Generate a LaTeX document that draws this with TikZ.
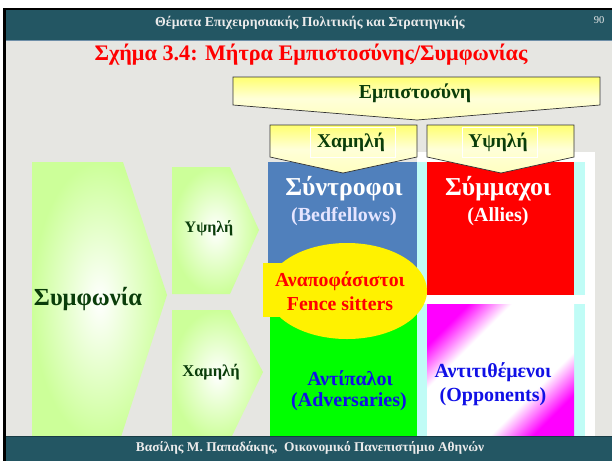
\documentclass[tikz,border=0pt]{standalone}
\usepackage{fontspec}
\setmainfont{Liberation Serif}
\definecolor{bggray}{HTML}{E6E6E2}
\definecolor{barteal}{HTML}{235663}
\definecolor{barline}{HTML}{6F8FA8}
\definecolor{chevgreen}{HTML}{CCFF99}
\definecolor{txtgreen}{HTML}{0A3D0A}
\definecolor{bedblue}{HTML}{5080BC}
\definecolor{palecyan}{HTML}{C0FCF6}
\definecolor{oppblue}{HTML}{1010E6}
\definecolor{arrowyellow}{HTML}{FFFF70}
\pgfdeclareverticalshading{magdiag}{100bp}{color(0bp)=(magenta); color(25bp)=(magenta); color(36bp)=(white); color(64bp)=(white); color(75bp)=(magenta); color(100bp)=(magenta)}
\newcommand{\fs}[1]{\fontsize{#1}{#1}\selectfont}
\tikzset{
  chev/.style={inner color=white, outer color=chevgreen},
  yarrow/.style={draw=black!80, line width=0.7pt, top color=arrowyellow, bottom color=yellow!25, middle color=yellow!15},
  lbl/.style={font=\bfseries, inner sep=0pt, align=center}
}
\begin{document}
\begin{tikzpicture}[x=1pt,y=-1pt]
\useasboundingbox (0,0) rectangle (612,461);
\fill[white] (0,0) rectangle (612,461);
% slide background
\fill[bggray] (3,8) rectangle (612,461);
% header bar
\fill[barteal] (3,8) rectangle (612,40);
\fill[barline] (6,39.5) rectangle (612,41);
\fill[black] (3,8) rectangle (612,10);
\node[lbl, text=white!92!black, font=\bfseries\fs{13.8}] (head) at (310,23) {Θέματα Επιχειρησιακής Πολιτικής και Στρατηγικής};
\node[inner sep=0pt, text=white!92!black, font=\fs{10.5}] (page) at (599,20) {90};
% title
\node[lbl, text=red, font=\bfseries\fs{22.2}] (title) at (311,55) {Σχήμα 3.4: Μήτρα Εμπιστοσύνης/Συμφωνίας};

% right column frame
\fill[white] (417,152) rectangle (595,436);
\fill[palecyan] (417,162) rectangle (585,295);
\fill[palecyan] (417,304) rectangle (585,436);
% quadrants
\fill[bedblue] (268,162) rectangle (417,300);
\fill[red] (427,162) rectangle (574,295);
\fill[green] (270,300) rectangle (417,436);
\shade[shading=magdiag, shading angle=45] (427,304) rectangle (574,436);
% undecided ellipse
\fill[yellow] (263,263) rectangle (330,317);
\fill[yellow] (347,291) ellipse [x radius=80, y radius=48];

% agreement chevrons
\shade[chev] (32,162) -- (123,162) -- (167,295) -- (120,440) -- (32,440) -- cycle;
\shade[chev] (172,167) -- (230,167) -- (259,230) -- (230,294) -- (172,294) -- cycle;
\shade[chev] (172,310) -- (230,310) -- (263,372) -- (230,440) -- (172,440) -- cycle;

% footer bar, over the chevron ends
\fill[barteal] (3,436) rectangle (612,461);
\fill[barteal!70!black] (6,435.5) rectangle (612,437);
\fill[black] (3,8) rectangle (6,461);
\node[lbl, text=white!92!black, font=\bfseries\fs{13.4}] (foot) at (310,448) {Βασίλης Μ. Παπαδάκης,\ \ Οικονομικό Πανεπιστήμιο Αθηνών};

% trust arrows
\path[yarrow] (233,77) -- (600,77) -- (600,105) -- (417,120) -- (233,105) -- cycle;
\path[yarrow] (270,125) -- (417,125) -- (417,157) -- (343,173) -- (270,157) -- cycle;
\path[yarrow] (427,125) -- (574,125) -- (574,157) -- (501,173) -- (427,157) -- cycle;
\draw[white, line width=0.6pt] (310,127) rectangle (395,157);
\draw[white, line width=0.6pt] (462,127) rectangle (537,157);

% labels
\node[lbl, text=txtgreen, font=\bfseries\fs{19.8}] (trust) at (415,93) {Εμπιστοσύνη};
\node[lbl, text=txtgreen, font=\bfseries\fs{19.5}] (tlow) at (351,142) {Χαμηλή};
\node[lbl, text=txtgreen, font=\bfseries\fs{19.5}] (thigh) at (498,142) {Υψηλή};

\node[lbl, text=txtgreen, font=\bfseries\fs{24.5}] (agree) at (88,299) {Συμφωνία};
\node[lbl, text=txtgreen, font=\bfseries\fs{16}] (ahigh) at (209,228) {Υψηλή};
\node[lbl, text=txtgreen, font=\bfseries\fs{16.5}] (alow) at (211,372) {Χαμηλή};

\node[lbl, text=white, font=\bfseries\fs{25.8}] (bed) at (344,189) {Σύντροφοι};
\node[lbl, text=white!90!blue, font=\bfseries\fs{20}] (bedEn) at (344,217) {(Bedfellows)};
\node[lbl, text=white, font=\bfseries\fs{25.8}] (ally) at (498,189) {Σύμμαχοι};
\node[lbl, text=white, font=\bfseries\fs{20}] (allyEn) at (498,217) {(Allies)};
\node[lbl, text=red, font=\bfseries\fs{19.8}] (fence) at (340,281) {Αναποφάσιστοι};
\node[lbl, text=red, font=\bfseries\fs{19.8}] (fenceEn) at (340,304) {Fence sitters};
\node[lbl, text=oppblue, font=\bfseries\fs{20}] (adv) at (350,378) {Αντίπαλοι};
\node[lbl, text=oppblue, font=\bfseries\fs{20}] (advEn) at (349,402) {(Adversaries)};
\node[lbl, text=oppblue, font=\bfseries\fs{20}] (opp) at (493,372) {Αντιτιθέμενοι};
\node[lbl, text=oppblue, font=\bfseries\fs{20}] (oppEn) at (493,397) {(Opponents)};
\end{tikzpicture}
\end{document}
